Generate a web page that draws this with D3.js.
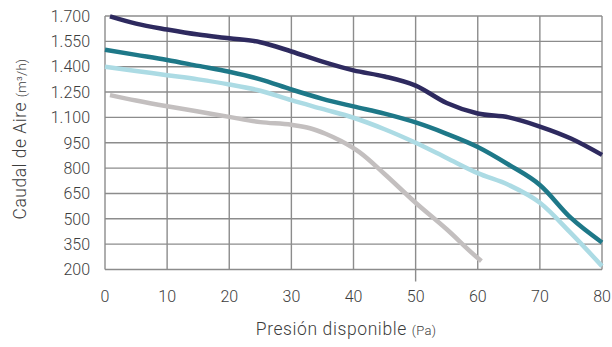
<!DOCTYPE html>
<html><head><meta charset="utf-8">
<script src="https://cdn.jsdelivr.net/npm/d3@7"></script>
<style>
html,body{margin:0;padding:0;background:#fff;}
svg{display:block;font-family:Roboto, "DejaVu Sans", sans-serif;}
</style></head>
<body><svg id="c" width="612" height="347"></svg>
<script>
const xTicks = [0,10,20,30,40,50,60,70,80];
const yTicks = [200,350,500,650,800,950,1100,1250,1400,1550,1700];
const seriesNames = ["S1","S2","S3","S4"];
const seriesColors = ["#2e2a5f","#1e7888","#acdbe4","#c3bfbf"];
const xPurple = [0.8,5,10,15,20,25,30,35,40,45,50,55,60,65,70,75,80];
const yPurple = [1698,1655,1620,1590,1568,1545,1490,1430,1378,1342,1288,1185,1123,1100,1046,975,878];
const xTeal = [0,5,10,15,20,25,30,35,40,45,50,55,60,65,70,75,80];
const yTeal = [1500,1470,1440,1405,1370,1325,1265,1210,1165,1122,1070,1003,925,820,700,505,360];
const xLight = [0,5,10,15,20,25,30,35,40,45,50,55,60,65,70,75,80];
const yLight = [1400,1375,1350,1325,1295,1258,1202,1150,1098,1030,950,860,770,700,595,415,220];
const xGray = [0.8,5,10,15,20,25,30,33,35.5,38,41,45,50,55,60,60.6];
const yGray = [1232,1200,1166,1135,1103,1072,1056,1036,1003,960,893,765,595,438,268,250];

const svg = d3.select("#c");
const x = d3.scaleLinear().domain([0,80]).range([105,602]);
const y = d3.scaleLinear().domain([200,1700]).range([269.5,16]);
const loc = d3.formatLocale({decimal:",", thousands:".", grouping:[3], currency:["","€"]});
const fmt = loc.format(",d");
const gridColor = "#8c8c8c";
const textColor = "#3d3d3d";

svg.append("g").selectAll("line").data(yTicks).join("line")
  .attr("x1", x(0)).attr("x2", x(80))
  .attr("y1", d=>y(d)).attr("y2", d=>y(d))
  .attr("stroke", gridColor).attr("stroke-width", 1.4);
svg.append("g").selectAll("line").data(xTicks).join("line")
  .attr("x1", d=>x(d)).attr("x2", d=>x(d))
  .attr("y1", y(1700)).attr("y2", d => d===50 ? y(200)+12 : y(200))
  .attr("stroke", gridColor).attr("stroke-width", 1.4);

svg.append("g").selectAll("text").data(yTicks).join("text")
  .attr("x", 90).attr("y", d=>y(d)).attr("dy","0.36em")
  .attr("text-anchor","end").attr("font-size",16).attr("font-weight",300).attr("fill",textColor)
  .text(d=>fmt(d));
svg.append("g").selectAll("text").data(xTicks).join("text")
  .attr("x", d=>x(d)).attr("y", 302)
  .attr("text-anchor","middle").attr("font-size",16).attr("font-weight",300).attr("fill",textColor)
  .text(d=>d);

const xt = svg.append("text").attr("x", 346).attr("y", 335).attr("text-anchor","middle")
  .attr("fill",textColor).attr("font-size",17.5).attr("font-weight",300).attr("letter-spacing",0.6);
xt.append("tspan").text("Presión disponible ");
xt.append("tspan").attr("font-size",13).attr("letter-spacing",0.3).text("(Pa)");

const yt = svg.append("text").attr("transform","translate(26,139) rotate(-90)")
  .attr("text-anchor","middle").attr("fill",textColor).attr("font-size",17.5).attr("font-weight",300).attr("letter-spacing",0.5);
yt.append("tspan").text("Caudal de Aire ");
yt.append("tspan").attr("font-size",13).attr("letter-spacing",0.3).text("(m³/h)");

const series = [
  {xs:xGray, ys:yGray, c:seriesColors[3]},
  {xs:xLight, ys:yLight, c:seriesColors[2]},
  {xs:xTeal, ys:yTeal, c:seriesColors[1]},
  {xs:xPurple, ys:yPurple, c:seriesColors[0]}
];
const line = d3.line().x(d=>x(d[0])).y(d=>y(d[1])).curve(d3.curveMonotoneX);
svg.append("g").selectAll("path").data(series).join("path")
  .attr("d", s => line(s.xs.map((v,i)=>[v,s.ys[i]])))
  .attr("fill","none").attr("stroke", s=>s.c).attr("stroke-width",4.5)
  .attr("stroke-linejoin","round").attr("stroke-linecap","butt");
</script></body></html>
